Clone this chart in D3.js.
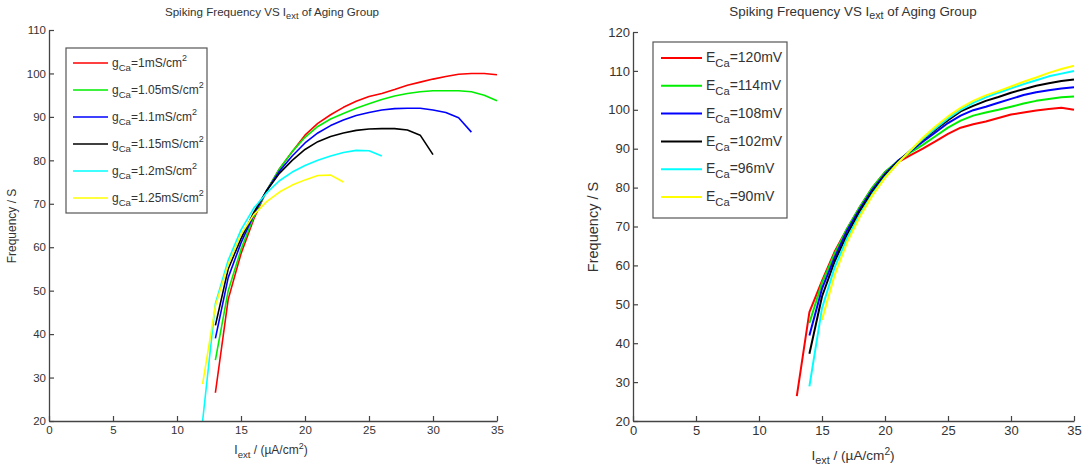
<!DOCTYPE html>
<html><head><meta charset="utf-8">
<script src="https://cdn.jsdelivr.net/npm/d3@7"></script>
<style>
body{margin:0;background:#fff;}
svg text{font-family:"Liberation Sans",Arial,sans-serif;fill:#333;}
</style></head>
<body><svg id="c" width="1088" height="471"></svg>
<script>
// ---------- data: left panel (g_Ca variations) ----------
const leftX = [12,13,14,15,16,17,18,19,20,21,22,23,24,25,26,27,28,29,30,31,32,33,34,35];
const leftLabels = ["1","1.05","1.1","1.15","1.2","1.25"];
const leftColors = ["#ff0000","#00ee00","#0000ff","#000000","#00ffff","#ffff00"];
const gCa100 = [null,26.5,48,58.5,66.5,73,78,82,85.8,88.5,90.5,92.2,93.6,94.7,95.4,96.3,97.3,98,98.7,99.3,99.8,100,100,99.7];
const gCa105 = [null,34,50,59.5,67,73,78,82,85.3,87.8,89.5,90.8,92,93,94,94.8,95.4,95.8,96,96,96,95.8,95,93.7];
const gCa110 = [null,39,53,61,67.5,73,77.5,81,84,86.3,88,89.3,90.3,91,91.6,91.9,92,92,91.6,91,89.8,86.5,null,null];
const gCa115 = [null,42,55,62,68,73,77,80,82.5,84.3,85.5,86.3,86.9,87.2,87.3,87.3,87,85.8,81.3,null,null,null,null,null];
const gCa120 = [20,47,57,64,69,72.5,75.3,77.3,78.8,80,81,81.8,82.3,82.2,81,null,null,null,null,null,null,null,null,null];
const gCa125 = [28.5,46.5,56,63,67.5,70.5,72.7,74.3,75.5,76.5,76.6,75,null,null,null,null,null,null,null,null,null,null,null,null];
const leftSeries = [gCa100,gCa105,gCa110,gCa115,gCa120,gCa125];

// ---------- data: right panel (E_Ca variations) ----------
const rightX = [13,14,15,16,17,18,19,20,21,22,23,24,25,26,27,28,29,30,31,32,33,34,35];
const rightLabels = ["120","114","108","102","96","90"];
const rightColors = ["#ff0000","#00ee00","#0000ff","#000000","#00ffff","#ffff00"];
const eCa120 = [26.4,48,56,63.5,69.5,75,80,84,86.5,88.3,90,91.9,93.8,95.4,96.3,97,97.9,98.8,99.3,99.8,100.2,100.5,100];
const eCa114 = [null,45.2,55.5,63,69.5,75,80,84,86.8,89,91,93.2,95.4,97.2,98.5,99.3,100,100.8,101.6,102.3,102.8,103.2,103.4];
const eCa108 = [null,42,54,62,69,74.5,79.5,83.5,86.8,89.3,91.8,94.2,96.6,98.5,99.9,100.8,101.8,102.8,103.8,104.5,105,105.5,105.8];
const eCa102 = [null,37.3,52,61,68,74,79,83.2,86.6,89.5,92.3,94.9,97.3,99.6,101,102.3,103.3,104.4,105.3,106.2,106.8,107.4,107.8];
const eCa96  = [null,28.9,49,59.5,67,73,78.3,82.7,86.3,89.5,92.5,95.2,97.8,100,101.8,103.2,104.4,105.5,106.6,107.6,108.6,109.3,110];
const eCa90  = [null,null,46,57.5,66,72.5,78,82.5,86.2,89.5,92.8,95.7,98.3,100.5,102.3,103.7,104.8,106,107.2,108.3,109.5,110.5,111.3];
const rightSeries = [eCa120,eCa114,eCa108,eCa102,eCa96,eCa90];

const xTicks = [0,5,10,15,20,25,30,35];
const leftYTicks = [20,30,40,50,60,70,80,90,100,110];
const rightYTicks = [20,30,40,50,60,70,80,90,100,110,120];

const svg = d3.select("#c");

function panel(cfg){
  const g = svg.append("g");
  const x = d3.scaleLinear().domain([0,35]).range([cfg.x0,cfg.x1]);
  const y = d3.scaleLinear().domain(cfg.yDom).range([cfg.y0,cfg.y1]);

  const line = d3.line().defined(d=>d[1]!=null).x(d=>x(d[0])).y(d=>y(d[1]));
  cfg.series.forEach((s,i)=>{
    const pts = cfg.xs.map((v,j)=>[v,s[j]]);
    g.append("path").attr("d",line(pts)).attr("fill","none")
      .attr("stroke",cfg.colors[i]).attr("stroke-width",cfg.lw)
      .attr("stroke-linejoin","round");
  });

  const ax = g.append("g").attr("transform",`translate(0,${cfg.y0})`)
    .call(d3.axisBottom(x).tickValues(xTicks).tickSize(-5).tickSizeOuter(0).tickPadding(5));
  const ay = g.append("g").attr("transform",`translate(${cfg.x0},0)`)
    .call(d3.axisLeft(y).tickValues(cfg.yTicks).tickSize(-5).tickSizeOuter(0).tickPadding(3));
  [ax,ay].forEach(a=>{
    a.select(".domain").attr("stroke","#444").attr("stroke-width",1.3);
    a.selectAll(".tick line").attr("stroke","#444").attr("stroke-width",1.2);
    a.selectAll(".tick text").attr("font-size",cfg.fs).style("fill","#333")
      .attr("font-family","Liberation Sans, Arial, sans-serif");
  });

  const t = g.append("text").attr("x",cfg.titleX).attr("y",16).attr("text-anchor","middle")
    .attr("font-size",cfg.tfs);
  t.append("tspan").text("Spiking Frequency VS I");
  t.append("tspan").attr("dy",3).attr("font-size",cfg.tfs*0.8).text("ext");
  t.append("tspan").attr("dy",-3).text(" of Aging Group");

  g.append("text").attr("transform",`translate(${cfg.ylx},${cfg.yly}) rotate(-90)`)
    .attr("text-anchor","middle").attr("font-size",cfg.ylfs).text("Frequency / S");

  const xl = g.append("text").attr("x",cfg.xlx).attr("y",cfg.xly).attr("text-anchor","middle")
    .attr("font-size",cfg.lfs);
  xl.append("tspan").text("I");
  xl.append("tspan").attr("dy",4).attr("font-size",cfg.lfs*0.8).text("ext");
  xl.append("tspan").attr("dy",-4).text(" / (\u00b5A/cm");
  xl.append("tspan").attr("dy",-5).attr("font-size",cfg.lfs*0.75).text("2");
  xl.append("tspan").attr("dy",5).text(")");

  const L = cfg.leg;
  g.append("rect").attr("x",L.x).attr("y",L.y).attr("width",L.w).attr("height",L.h)
    .attr("fill","#fff").attr("stroke","#555").attr("stroke-width",1.2);
  cfg.labels.forEach((lab,i)=>{
    const yy = L.y + L.first + i*L.step;
    g.append("line").attr("x1",L.x+L.l0).attr("x2",L.x+L.l1).attr("y1",yy).attr("y2",yy)
      .attr("stroke",cfg.colors[i]).attr("stroke-width",cfg.lw);
    const tx = g.append("text").attr("x",L.x+L.tx).attr("y",yy+L.fs*0.3).attr("font-size",L.fs);
    tx.append("tspan").text(cfg.sym);
    tx.append("tspan").attr("dy",L.fs*0.35).attr("font-size",L.fs*0.8).text("Ca");
    tx.append("tspan").attr("dy",-L.fs*0.35).text("=" + lab + cfg.unit);
    if(cfg.sup){
      tx.append("tspan").attr("dy",-L.fs*0.45).attr("font-size",L.fs*0.75).text("2");
    }
  });
}

panel({x0:49,x1:497,y0:421,y1:30,yDom:[20,110],yTicks:leftYTicks,
  xs:leftX,series:leftSeries,colors:leftColors,labels:leftLabels,lw:1.6,
  fs:11.5,tfs:11.6,lfs:12,ylfs:12,titleX:272,ylx:16,yly:226,xlx:271,xly:454,
  sym:"g",unit:"mS/cm",sup:true,
  leg:{x:66,y:48,w:141,h:165,first:15,step:27,l0:7,l1:42,tx:46,fs:12}});

panel({x0:633,x1:1074,y0:421,y1:32,yDom:[20,120],yTicks:rightYTicks,
  xs:rightX,series:rightSeries,colors:rightColors,labels:rightLabels,lw:2,
  fs:13,tfs:13.4,lfs:13.6,ylfs:14.5,titleX:853,ylx:598,yly:227,xlx:853,xly:460,
  sym:"E",unit:"mV",sup:false,
  leg:{x:653,y:42,w:134,h:176,first:16,step:27.8,l0:8,l1:49,tx:53,fs:14}});
</script></body></html>
